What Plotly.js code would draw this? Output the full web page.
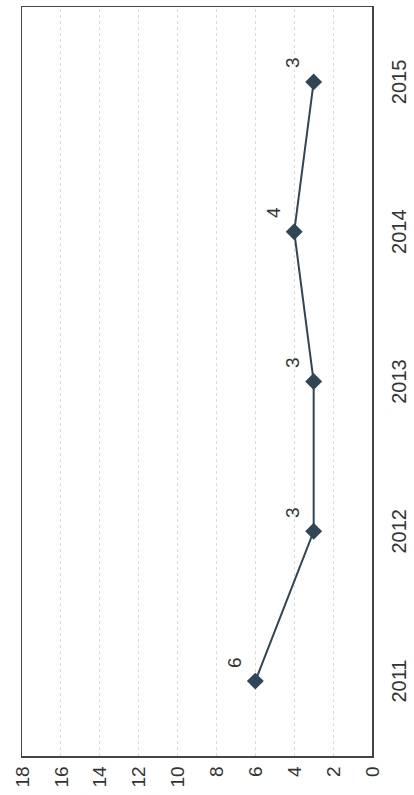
<!DOCTYPE html>
<html>
<head>
<meta charset="utf-8">
<script src="https://cdn.plot.ly/plotly-3.0.1.min.js"></script>
<style>
html, body { margin: 0; padding: 0; background: #fff; overflow: hidden; width: 414px; height: 795px; }
#chart { position: absolute; left: 0; top: 0; width: 795px; height: 414px;
  transform-origin: 0 0; transform: translate(0px, 795px) rotate(-90deg); }
</style>
</head>
<body>
<div id="chart"></div>
<script>
// Data (chart is drawn upright, then the whole figure is turned 90° like the scanned reference)
var years = ['2011', '2012', '2013', '2014', '2015'];
var values = [6, 3, 3, 4, 3];
var labels = ['6', '3', '3', '4', '3'];
var yTicks = [0, 2, 4, 6, 8, 10, 12, 14, 16, 18];

var ink = '#2f4656';

var trace = {
  x: years,
  y: values,
  type: 'scatter',
  mode: 'lines+markers',
  line: { color: ink, width: 2 },
  marker: { symbol: 'diamond', size: 13, color: ink },
  hoverinfo: 'skip'
};

var annotations = years.map(function (yr, i) {
  return {
    x: i, y: values[i], xref: 'x', yref: 'y',
    text: labels[i], showarrow: false,
    xshift: 19, yshift: 21,
    font: { family: 'Liberation Sans, Arial, sans-serif', size: 19, color: '#333' }
  };
});

var layout = {
  width: 795, height: 414,
  margin: { l: 39, r: 7, t: 22, b: 42 },
  paper_bgcolor: '#fff',
  plot_bgcolor: '#fff',
  showlegend: false,
  font: { family: 'Liberation Sans, Arial, sans-serif', size: 19, color: '#333' },
  xaxis: {
    type: 'category',
    categoryorder: 'array', categoryarray: years,
    range: [-0.5, 4.5],
    showgrid: false,
    showline: true, linecolor: '#444', linewidth: 1.5, mirror: true,
    ticks: '', ticklabelstandoff: 8,
    tickfont: { size: 20, color: '#333' }
  },
  yaxis: {
    range: [0, 18],
    tickvals: yTicks,
    ticktext: yTicks.map(String),
    showgrid: true, gridcolor: '#dcdcdc', griddash: 'dot', gridwidth: 1,
    zeroline: false,
    showline: true, linecolor: '#444', linewidth: 1.5, mirror: true,
    ticks: '', ticklabelstandoff: 5,
    tickfont: { size: 19, color: '#333' }
  },
  annotations: annotations
};

Plotly.newPlot('chart', [trace], layout, { displayModeBar: false, staticPlot: true });
</script>
</body>
</html>
